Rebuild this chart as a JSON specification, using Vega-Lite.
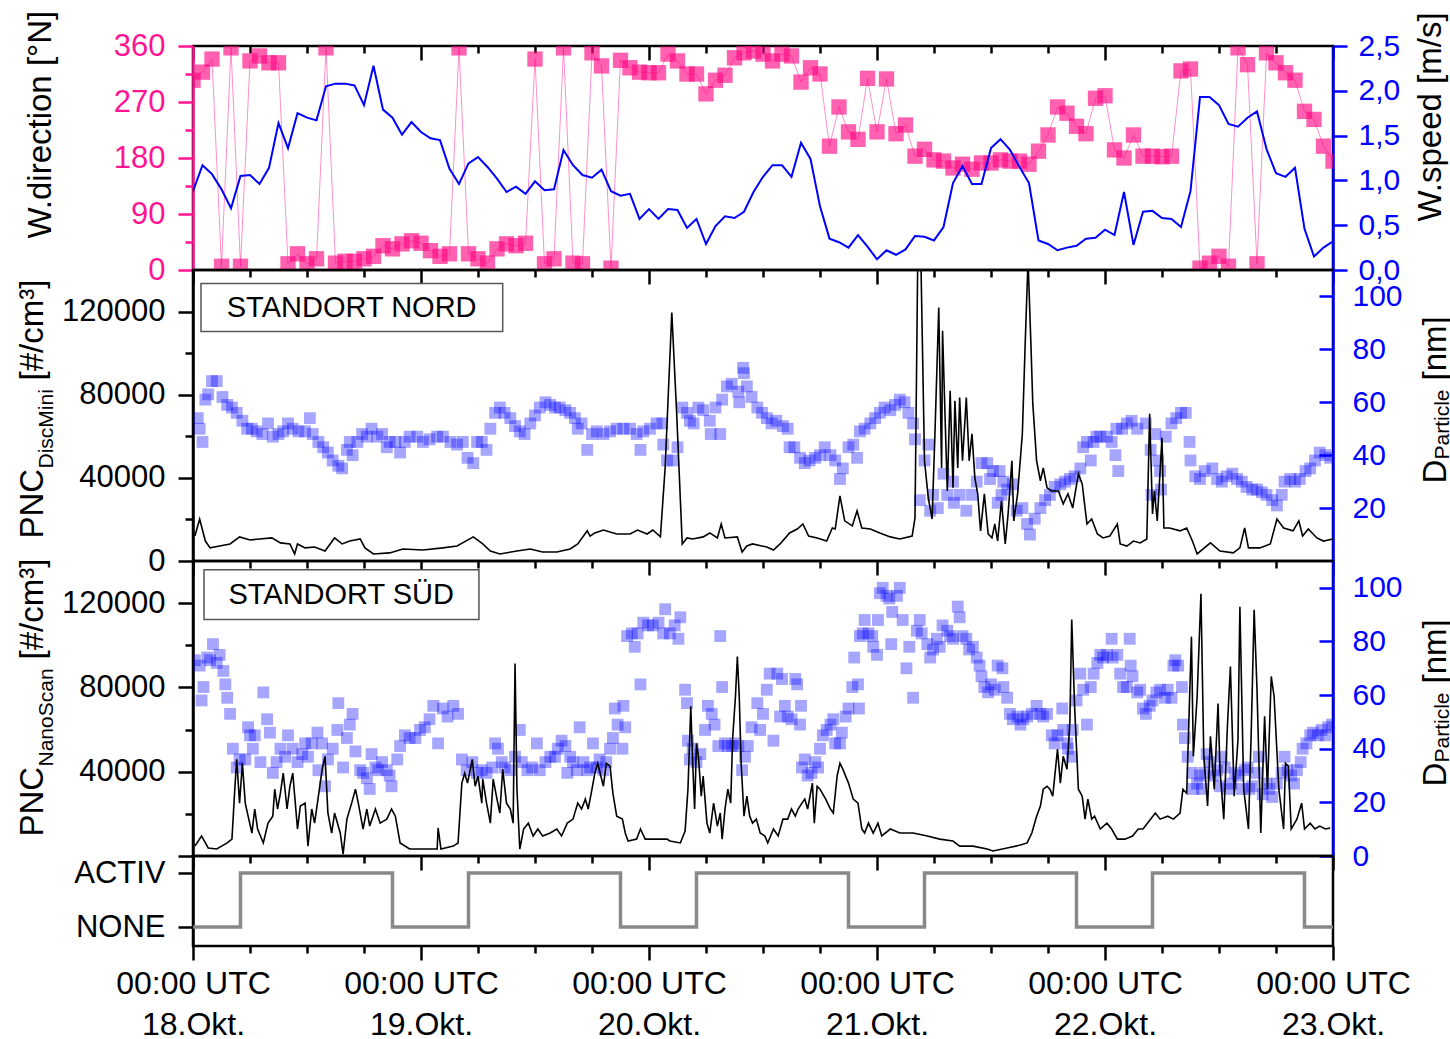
{
  "$schema": "https://vega.github.io/schema/vega-lite/v6.json",
  "background": "white",
  "padding": {"left": 14, "top": 8, "right": 0, "bottom": 0},
  "spacing": 0,
  "bounds": "flush",
  "config": {
    "view": {"stroke": "#000", "strokeWidth": 2.5},
    "axis": {"grid": false, "labelFont": "Liberation Sans", "titleFont": "Liberation Sans", "titleFontWeight": "normal", "titleColor": "#000", "labelColor": "#000"},
    "text": {"font": "Liberation Sans"}
  },
  "datasets": {
    "wdir": [{"h":0,"v":305},{"h":1,"v":318},{"h":2,"v":339},{"h":3,"v":6},{"h":4,"v":357},{"h":5,"v":6},{"h":6,"v":336},{"h":7,"v":344},{"h":8,"v":333},{"h":9,"v":333},{"h":10,"v":10},{"h":11,"v":26},{"h":12,"v":10},{"h":13,"v":18},{"h":14,"v":357},{"h":15,"v":11},{"h":16,"v":14},{"h":17,"v":14},{"h":18,"v":18},{"h":19,"v":22},{"h":20,"v":39},{"h":21,"v":34},{"h":22,"v":42},{"h":23,"v":47},{"h":24,"v":43},{"h":25,"v":31},{"h":26,"v":22},{"h":27,"v":26},{"h":28,"v":357},{"h":29,"v":26},{"h":30,"v":18},{"h":31,"v":11},{"h":32,"v":34},{"h":33,"v":42},{"h":34,"v":39},{"h":35,"v":43},{"h":36,"v":339},{"h":37,"v":10},{"h":38,"v":18},{"h":39,"v":357},{"h":40,"v":11},{"h":41,"v":10},{"h":42,"v":349},{"h":43,"v":328},{"h":44,"v":3},{"h":45,"v":337},{"h":46,"v":325},{"h":47,"v":318},{"h":48,"v":317},{"h":49,"v":317},{"h":50,"v":347},{"h":51,"v":336},{"h":52,"v":315},{"h":53,"v":315},{"h":54,"v":283},{"h":55,"v":305},{"h":56,"v":313},{"h":57,"v":341},{"h":58,"v":349},{"h":59,"v":352},{"h":60,"v":347},{"h":61,"v":336},{"h":62,"v":347},{"h":63,"v":344},{"h":64,"v":302},{"h":65,"v":325},{"h":66,"v":315},{"h":67,"v":199},{"h":68,"v":262},{"h":69,"v":222},{"h":70,"v":210},{"h":71,"v":308},{"h":72,"v":222},{"h":73,"v":307},{"h":74,"v":219},{"h":75,"v":233},{"h":76,"v":183},{"h":77,"v":194},{"h":78,"v":177},{"h":79,"v":175},{"h":80,"v":164},{"h":81,"v":170},{"h":82,"v":162},{"h":83,"v":172},{"h":84,"v":172},{"h":85,"v":177},{"h":86,"v":175},{"h":87,"v":175},{"h":88,"v":170},{"h":89,"v":191},{"h":90,"v":217},{"h":91,"v":262},{"h":92,"v":252},{"h":93,"v":231},{"h":94,"v":219},{"h":95,"v":276},{"h":96,"v":280},{"h":97,"v":193},{"h":98,"v":180},{"h":99,"v":217},{"h":100,"v":183},{"h":101,"v":183},{"h":102,"v":182},{"h":103,"v":183},{"h":104,"v":320},{"h":105,"v":323},{"h":106,"v":3},{"h":107,"v":11},{"h":108,"v":22},{"h":109,"v":6},{"h":110,"v":357},{"h":111,"v":330},{"h":112,"v":10},{"h":113,"v":349},{"h":114,"v":333},{"h":115,"v":317},{"h":116,"v":305},{"h":117,"v":255},{"h":118,"v":242},{"h":119,"v":199},{"h":120,"v":175}],
    "wspd": [{"h":0,"v":0.88},{"h":1,"v":1.17},{"h":2,"v":1.07},{"h":3,"v":0.9},{"h":4,"v":0.69},{"h":5,"v":1.05},{"h":6,"v":1.06},{"h":7,"v":0.96},{"h":8,"v":1.14},{"h":9,"v":1.64},{"h":10,"v":1.36},{"h":11,"v":1.75},{"h":12,"v":1.7},{"h":13,"v":1.67},{"h":14,"v":2.05},{"h":15,"v":2.08},{"h":16,"v":2.08},{"h":17,"v":2.06},{"h":18,"v":1.84},{"h":19,"v":2.28},{"h":20,"v":1.79},{"h":21,"v":1.7},{"h":22,"v":1.51},{"h":23,"v":1.65},{"h":24,"v":1.54},{"h":25,"v":1.47},{"h":26,"v":1.45},{"h":27,"v":1.13},{"h":28,"v":0.96},{"h":29,"v":1.19},{"h":30,"v":1.26},{"h":31,"v":1.15},{"h":32,"v":1.02},{"h":33,"v":0.87},{"h":34,"v":0.93},{"h":35,"v":0.85},{"h":36,"v":0.99},{"h":37,"v":0.89},{"h":38,"v":0.9},{"h":39,"v":1.34},{"h":40,"v":1.17},{"h":41,"v":1.06},{"h":42,"v":1.03},{"h":43,"v":1.12},{"h":44,"v":0.88},{"h":45,"v":0.83},{"h":46,"v":0.85},{"h":47,"v":0.57},{"h":48,"v":0.68},{"h":49,"v":0.57},{"h":50,"v":0.68},{"h":51,"v":0.67},{"h":52,"v":0.47},{"h":53,"v":0.57},{"h":54,"v":0.29},{"h":55,"v":0.49},{"h":56,"v":0.6},{"h":57,"v":0.58},{"h":58,"v":0.65},{"h":59,"v":0.87},{"h":60,"v":1.04},{"h":61,"v":1.17},{"h":62,"v":1.17},{"h":63,"v":1.04},{"h":64,"v":1.42},{"h":65,"v":1.24},{"h":66,"v":0.71},{"h":67,"v":0.35},{"h":68,"v":0.31},{"h":69,"v":0.25},{"h":70,"v":0.39},{"h":71,"v":0.26},{"h":72,"v":0.12},{"h":73,"v":0.22},{"h":74,"v":0.17},{"h":75,"v":0.23},{"h":76,"v":0.38},{"h":77,"v":0.37},{"h":78,"v":0.33},{"h":79,"v":0.48},{"h":80,"v":0.97},{"h":81,"v":1.16},{"h":82,"v":0.96},{"h":83,"v":0.96},{"h":84,"v":1.36},{"h":85,"v":1.46},{"h":86,"v":1.34},{"h":87,"v":1.15},{"h":88,"v":0.97},{"h":89,"v":0.33},{"h":90,"v":0.29},{"h":91,"v":0.22},{"h":92,"v":0.25},{"h":93,"v":0.27},{"h":94,"v":0.35},{"h":95,"v":0.36},{"h":96,"v":0.45},{"h":97,"v":0.39},{"h":98,"v":0.87},{"h":99,"v":0.28},{"h":100,"v":0.65},{"h":101,"v":0.66},{"h":102,"v":0.58},{"h":103,"v":0.57},{"h":104,"v":0.48},{"h":105,"v":0.88},{"h":106,"v":1.93},{"h":107,"v":1.93},{"h":108,"v":1.84},{"h":109,"v":1.63},{"h":110,"v":1.6},{"h":111,"v":1.7},{"h":112,"v":1.77},{"h":113,"v":1.35},{"h":114,"v":1.08},{"h":115,"v":1.04},{"h":116,"v":1.14},{"h":117,"v":0.46},{"h":118,"v":0.15},{"h":119,"v":0.25},{"h":120,"v":0.32}],
    "pncN": [{"h":0.2,"v":12000},{"h":0.7,"v":20200},{"h":1.3,"v":9600},{"h":1.8,"v":6300},{"h":2.8,"v":7200},{"h":3.9,"v":8200},{"h":4.9,"v":11600},{"h":6,"v":10100},{"h":7,"v":10600},{"h":8.3,"v":11100},{"h":9.2,"v":8700},{"h":10.2,"v":8200},{"h":10.7,"v":3400},{"h":11,"v":8200},{"h":11.8,"v":6300},{"h":12.8,"v":6700},{"h":13.9,"v":4800},{"h":14.9,"v":11100},{"h":15.7,"v":8200},{"h":16.5,"v":9600},{"h":17.6,"v":10600},{"h":18.1,"v":6300},{"h":19,"v":3400},{"h":20.7,"v":3900},{"h":22.1,"v":5800},{"h":24.2,"v":5300},{"h":26.3,"v":6300},{"h":27.8,"v":7200},{"h":29.5,"v":11600},{"h":30.5,"v":8200},{"h":31.3,"v":4800},{"h":32.3,"v":3400},{"h":34.1,"v":4800},{"h":35.5,"v":5800},{"h":36.8,"v":4300},{"h":38.3,"v":4300},{"h":39.7,"v":5800},{"h":40.5,"v":8200},{"h":41.5,"v":14500},{"h":41.8,"v":12000},{"h":42.3,"v":13500},{"h":43.2,"v":14900},{"h":44.6,"v":13000},{"h":46,"v":13000},{"h":46.8,"v":14900},{"h":47.8,"v":13000},{"h":48.4,"v":14900},{"h":49.2,"v":11600},{"h":49.7,"v":45000},{"h":50.4,"v":119500},{"h":50.9,"v":72300},{"h":51.5,"v":8200},{"h":52,"v":11100},{"h":52.6,"v":10600},{"h":53.7,"v":11600},{"h":54.4,"v":13500},{"h":55.2,"v":11100},{"h":55.6,"v":17800},{"h":56,"v":11100},{"h":57.3,"v":11600},{"h":57.8,"v":4300},{"h":58.3,"v":7200},{"h":58.9,"v":8200},{"h":60.4,"v":6700},{"h":61.1,"v":5300},{"h":61.8,"v":8200},{"h":62.8,"v":13500},{"h":63.6,"v":15400},{"h":64.2,"v":17800},{"h":64.8,"v":12000},{"h":65.7,"v":11100},{"h":66.7,"v":9600},{"h":67.3,"v":15900},{"h":67.6,"v":15400},{"h":68.1,"v":31300},{"h":68.6,"v":19300},{"h":69.4,"v":16900},{"h":69.9,"v":24100},{"h":70.4,"v":15900},{"h":71.3,"v":15400},{"h":72.3,"v":13500},{"h":73.4,"v":11600},{"h":74.4,"v":10600},{"h":75.7,"v":12000},{"h":76,"v":20700},{"h":76.3,"v":150000},{"h":76.6,"v":150000},{"h":77,"v":48200},{"h":77.4,"v":30400},{"h":77.8,"v":20200},{"h":78.1,"v":61200},{"h":78.5,"v":121900},{"h":78.8,"v":44800},{"h":78.9,"v":110800},{"h":79.2,"v":64100},{"h":79.4,"v":33700},{"h":79.7,"v":81900},{"h":80,"v":35200},{"h":80.2,"v":77100},{"h":80.5,"v":44800},{"h":80.7,"v":78600},{"h":81,"v":48200},{"h":81.4,"v":78600},{"h":81.7,"v":48200},{"h":82,"v":61200},{"h":82.3,"v":40000},{"h":82.6,"v":32300},{"h":82.9,"v":14500},{"h":83.3,"v":32300},{"h":83.6,"v":17800},{"h":83.7,"v":13000},{"h":84.1,"v":11100},{"h":84.4,"v":17800},{"h":84.7,"v":9600},{"h":85.1,"v":28900},{"h":85.5,"v":8200},{"h":85.8,"v":22600},{"h":86.2,"v":48200},{"h":86.4,"v":19300},{"h":86.8,"v":32300},{"h":87.3,"v":61200},{"h":87.6,"v":104600},{"h":87.9,"v":145000},{"h":88.2,"v":104600},{"h":88.4,"v":75700},{"h":88.8,"v":48200},{"h":89.2,"v":38600},{"h":89.5,"v":44800},{"h":89.9,"v":35200},{"h":90.4,"v":33700},{"h":91.1,"v":33700},{"h":91.6,"v":27500},{"h":92.1,"v":32300},{"h":92.6,"v":25500},{"h":93.2,"v":41900},{"h":93.6,"v":37100},{"h":94.1,"v":17800},{"h":94.6,"v":20200},{"h":95.2,"v":13000},{"h":95.8,"v":11100},{"h":96.5,"v":12000},{"h":97.3,"v":17800},{"h":97.6,"v":8200},{"h":98.3,"v":7200},{"h":99,"v":9600},{"h":99.7,"v":8700},{"h":100.4,"v":10600},{"h":100.7,"v":70800},{"h":101,"v":22600},{"h":101.2,"v":33700},{"h":101.5,"v":19300},{"h":102,"v":59300},{"h":102.2,"v":15900},{"h":102.8,"v":15900},{"h":103.9,"v":14500},{"h":104.6,"v":15900},{"h":105.2,"v":9600},{"h":105.7,"v":3400},{"h":107.1,"v":8700},{"h":108.1,"v":4800},{"h":109.5,"v":3900},{"h":110.2,"v":6300},{"h":110.7,"v":15900},{"h":111.1,"v":6300},{"h":112.3,"v":6300},{"h":113.4,"v":8200},{"h":114.1,"v":20200},{"h":114.8,"v":15900},{"h":115.8,"v":14500},{"h":116.4,"v":19300},{"h":116.8,"v":12000},{"h":117.4,"v":15400},{"h":118.3,"v":11100},{"h":119,"v":9600},{"h":120,"v":10600}],
    "dN": [{"h":0.5,"v":54},{"h":0.7,"v":50},{"h":1,"v":45},{"h":1.3,"v":61},{"h":1.6,"v":63},{"h":2,"v":68},{"h":2.5,"v":68},{"h":3.1,"v":62},{"h":3.6,"v":59},{"h":4.1,"v":58},{"h":4.6,"v":56},{"h":5.2,"v":53},{"h":5.7,"v":50},{"h":6.2,"v":50},{"h":6.7,"v":49},{"h":7.3,"v":48},{"h":7.9,"v":52},{"h":8.4,"v":47},{"h":9,"v":48},{"h":9.5,"v":49},{"h":10,"v":52},{"h":10.5,"v":50},{"h":11.1,"v":49},{"h":11.8,"v":49},{"h":12.3,"v":54},{"h":12.6,"v":48},{"h":13.2,"v":45},{"h":13.7,"v":43},{"h":14.2,"v":41},{"h":14.7,"v":38},{"h":15.3,"v":36},{"h":15.7,"v":35},{"h":16.2,"v":42},{"h":16.5,"v":45},{"h":16.8,"v":40},{"h":17.3,"v":45},{"h":17.8,"v":48},{"h":18.3,"v":47},{"h":18.8,"v":50},{"h":19.4,"v":47},{"h":19.9,"v":48},{"h":20.4,"v":43},{"h":20.7,"v":45},{"h":21.3,"v":45},{"h":21.8,"v":41},{"h":22.3,"v":45},{"h":22.8,"v":47},{"h":23.6,"v":47},{"h":24.2,"v":45},{"h":24.9,"v":46},{"h":25.7,"v":47},{"h":26.3,"v":47},{"h":27.1,"v":45},{"h":27.8,"v":44},{"h":28.4,"v":45},{"h":28.9,"v":39},{"h":29.5,"v":37},{"h":29.9,"v":45},{"h":30.4,"v":45},{"h":30.9,"v":42},{"h":31.3,"v":50},{"h":31.8,"v":56},{"h":32.3,"v":58},{"h":32.8,"v":56},{"h":33.4,"v":54},{"h":33.9,"v":51},{"h":34.4,"v":49},{"h":34.9,"v":48},{"h":35.5,"v":52},{"h":36,"v":55},{"h":36.5,"v":58},{"h":37.1,"v":60},{"h":37.6,"v":59},{"h":38.1,"v":58},{"h":38.6,"v":58},{"h":39.2,"v":57},{"h":39.7,"v":56},{"h":40.2,"v":54},{"h":40.5,"v":50},{"h":40.9,"v":52},{"h":41.5,"v":42},{"h":42,"v":48},{"h":42.5,"v":49},{"h":43.2,"v":48},{"h":43.9,"v":49},{"h":44.6,"v":50},{"h":45.3,"v":50},{"h":46,"v":50},{"h":46.7,"v":48},{"h":47.1,"v":42},{"h":47.4,"v":49},{"h":48.1,"v":50},{"h":48.8,"v":52},{"h":49.4,"v":52},{"h":49.5,"v":44},{"h":49.9,"v":38},{"h":50.5,"v":38},{"h":51,"v":43},{"h":51.5,"v":58},{"h":52,"v":56},{"h":52.3,"v":53},{"h":52.7,"v":52},{"h":53.2,"v":58},{"h":53.7,"v":57},{"h":54.4,"v":53},{"h":54.5,"v":48},{"h":55,"v":58},{"h":55.5,"v":48},{"h":55.7,"v":61},{"h":56.2,"v":66},{"h":56.7,"v":67},{"h":57.4,"v":64},{"h":57.5,"v":60},{"h":57.9,"v":73},{"h":58,"v":71},{"h":58.3,"v":66},{"h":58.8,"v":62},{"h":59.4,"v":58},{"h":59.9,"v":56},{"h":60.4,"v":54},{"h":60.9,"v":52},{"h":61.4,"v":53},{"h":62.1,"v":51},{"h":62.6,"v":50},{"h":62.8,"v":43},{"h":63.3,"v":43},{"h":63.9,"v":39},{"h":64.4,"v":37},{"h":64.9,"v":38},{"h":65.5,"v":39},{"h":66,"v":40},{"h":66.5,"v":43},{"h":67.1,"v":40},{"h":67.6,"v":38},{"h":68.1,"v":31},{"h":68.4,"v":35},{"h":69,"v":43},{"h":69.5,"v":44},{"h":69.9,"v":39},{"h":70.2,"v":49},{"h":70.7,"v":50},{"h":71.3,"v":52},{"h":71.8,"v":54},{"h":72.3,"v":56},{"h":72.8,"v":58},{"h":73.4,"v":57},{"h":73.9,"v":59},{"h":74.4,"v":61},{"h":74.9,"v":60},{"h":75.3,"v":56},{"h":75.8,"v":52},{"h":76,"v":46},{"h":76.5,"v":23},{"h":77,"v":38},{"h":77.4,"v":44},{"h":77.6,"v":19},{"h":77.9,"v":25},{"h":78.4,"v":20},{"h":79,"v":33},{"h":79.4,"v":25},{"h":80,"v":30},{"h":80.1,"v":22},{"h":80.7,"v":25},{"h":81.4,"v":19},{"h":82,"v":25},{"h":82.5,"v":30},{"h":83,"v":37},{"h":83.6,"v":37},{"h":83.9,"v":31},{"h":84.2,"v":34},{"h":84.7,"v":22},{"h":84.9,"v":34},{"h":85.1,"v":25},{"h":85.3,"v":30},{"h":85.7,"v":27},{"h":86.3,"v":29},{"h":86.7,"v":19},{"h":87.3,"v":20},{"h":87.8,"v":14},{"h":88.1,"v":10},{"h":88.6,"v":16},{"h":89.2,"v":20},{"h":89.7,"v":23},{"h":90.2,"v":25},{"h":90.7,"v":28},{"h":91.3,"v":29},{"h":91.8,"v":30},{"h":92.3,"v":31},{"h":92.8,"v":32},{"h":93.4,"v":35},{"h":93.7,"v":43},{"h":94.1,"v":45},{"h":94.5,"v":38},{"h":94.8,"v":45},{"h":95.1,"v":47},{"h":95.5,"v":47},{"h":96.2,"v":47},{"h":96.7,"v":45},{"h":97.1,"v":40},{"h":97.2,"v":50},{"h":97.4,"v":34},{"h":97.8,"v":50},{"h":98.3,"v":52},{"h":98.8,"v":53},{"h":99.4,"v":50},{"h":100.3,"v":52},{"h":100.8,"v":42},{"h":100.9,"v":25},{"h":101.3,"v":48},{"h":101.6,"v":38},{"h":101.8,"v":34},{"h":101.9,"v":27},{"h":102.4,"v":47},{"h":103,"v":52},{"h":103.5,"v":54},{"h":104,"v":56},{"h":104.5,"v":56},{"h":104.9,"v":45},{"h":105,"v":38},{"h":105.5,"v":32},{"h":106,"v":31},{"h":106.5,"v":34},{"h":107.3,"v":35},{"h":107.8,"v":31},{"h":108.3,"v":30},{"h":108.8,"v":32},{"h":109.4,"v":33},{"h":109.9,"v":31},{"h":110.4,"v":30},{"h":110.9,"v":28},{"h":111.5,"v":27},{"h":112,"v":27},{"h":112.5,"v":26},{"h":113,"v":25},{"h":113.6,"v":23},{"h":114.1,"v":21},{"h":114.6,"v":25},{"h":114.9,"v":30},{"h":115.5,"v":31},{"h":116,"v":30},{"h":116.5,"v":31},{"h":117.1,"v":34},{"h":117.6,"v":35},{"h":118.1,"v":38},{"h":118.6,"v":41},{"h":119.2,"v":40},{"h":119.7,"v":39}],
    "pncS": [{"h":0.2,"v":4700},{"h":0.9,"v":9500},{"h":1.6,"v":3800},{"h":2.5,"v":3300},{"h":3.6,"v":6200},{"h":4.1,"v":8000},{"h":4.4,"v":31700},{"h":4.6,"v":45900},{"h":4.9,"v":25100},{"h":5.2,"v":44000},{"h":5.5,"v":25100},{"h":5.8,"v":18900},{"h":6.2,"v":10900},{"h":6.5,"v":22300},{"h":6.8,"v":12800},{"h":7.4,"v":6200},{"h":7.9,"v":15600},{"h":8.4,"v":18900},{"h":8.6,"v":31700},{"h":8.9,"v":22300},{"h":9.2,"v":29800},{"h":9.5,"v":39300},{"h":9.9,"v":22300},{"h":10.2,"v":33100},{"h":10.5,"v":39300},{"h":11,"v":12800},{"h":11.3,"v":23700},{"h":11.8,"v":25100},{"h":12.1,"v":4700},{"h":12.5,"v":22300},{"h":12.8,"v":15600},{"h":13.2,"v":28400},{"h":13.6,"v":41200},{"h":13.9,"v":47300},{"h":14.2,"v":20400},{"h":14.6,"v":10900},{"h":14.9,"v":20400},{"h":15.5,"v":10900},{"h":15.8,"v":900},{"h":16.2,"v":17500},{"h":16.7,"v":25100},{"h":17.1,"v":31700},{"h":17.4,"v":25100},{"h":17.9,"v":12800},{"h":18.3,"v":22300},{"h":18.6,"v":14200},{"h":19.2,"v":22300},{"h":19.7,"v":15600},{"h":20.4,"v":17500},{"h":20.9,"v":22300},{"h":21.3,"v":18900},{"h":21.8,"v":6200},{"h":22.8,"v":3300},{"h":24.2,"v":3300},{"h":25.7,"v":3300},{"h":25.8,"v":13300},{"h":26.1,"v":3300},{"h":27.4,"v":4700},{"h":27.9,"v":6200},{"h":28.3,"v":34600},{"h":28.6,"v":39300},{"h":28.9,"v":34600},{"h":29.4,"v":45900},{"h":29.7,"v":33100},{"h":30,"v":37900},{"h":30.4,"v":25100},{"h":30.5,"v":36500},{"h":30.9,"v":25100},{"h":31.3,"v":15600},{"h":31.6,"v":36500},{"h":32,"v":27000},{"h":32.3,"v":20400},{"h":32.6,"v":41200},{"h":33,"v":25100},{"h":33.4,"v":22300},{"h":33.7,"v":15600},{"h":33.9,"v":91400},{"h":34.1,"v":31700},{"h":34.4,"v":3300},{"h":34.8,"v":12800},{"h":35.3,"v":15600},{"h":35.8,"v":9500},{"h":36.3,"v":12800},{"h":36.8,"v":9500},{"h":37.6,"v":10900},{"h":38.3,"v":12800},{"h":38.8,"v":9500},{"h":39.4,"v":15600},{"h":40,"v":17500},{"h":40.5,"v":25100},{"h":40.9,"v":22300},{"h":41.3,"v":27000},{"h":41.6,"v":22300},{"h":42,"v":31700},{"h":42.3,"v":39300},{"h":42.6,"v":44000},{"h":43.2,"v":33100},{"h":43.5,"v":44000},{"h":43.9,"v":42600},{"h":44.2,"v":29800},{"h":44.6,"v":18900},{"h":45.2,"v":17500},{"h":45.5,"v":10900},{"h":45.8,"v":7100},{"h":46.7,"v":8000},{"h":47.1,"v":12800},{"h":47.6,"v":8000},{"h":48.8,"v":8000},{"h":49.9,"v":8000},{"h":50.2,"v":7100},{"h":51.3,"v":6200},{"h":51.8,"v":11800},{"h":52.1,"v":31700},{"h":52.4,"v":71000},{"h":52.6,"v":44000},{"h":52.8,"v":22300},{"h":53,"v":53500},{"h":53.2,"v":47300},{"h":53.5,"v":28400},{"h":53.7,"v":37900},{"h":54.1,"v":15600},{"h":54.4,"v":10900},{"h":54.8,"v":25100},{"h":55.2,"v":14200},{"h":55.5,"v":20400},{"h":55.7,"v":8000},{"h":56,"v":22300},{"h":56.3,"v":31700},{"h":56.6,"v":25100},{"h":56.8,"v":55400},{"h":57.1,"v":75700},{"h":57.3,"v":94700},{"h":57.5,"v":75700},{"h":57.7,"v":44000},{"h":58,"v":18900},{"h":58.3,"v":28400},{"h":58.6,"v":18900},{"h":58.9,"v":15600},{"h":59.3,"v":17500},{"h":59.7,"v":10900},{"h":60.2,"v":9500},{"h":60.5,"v":6200},{"h":61.1,"v":12800},{"h":61.6,"v":9500},{"h":62.1,"v":17500},{"h":62.6,"v":17500},{"h":63,"v":22300},{"h":63.4,"v":18900},{"h":63.7,"v":22300},{"h":64.1,"v":25100},{"h":64.4,"v":27000},{"h":64.7,"v":22300},{"h":65.2,"v":34600},{"h":65.4,"v":15600},{"h":65.7,"v":33100},{"h":66,"v":31700},{"h":66.6,"v":27000},{"h":67.1,"v":22300},{"h":67.4,"v":20400},{"h":67.8,"v":37900},{"h":68.1,"v":44000},{"h":68.4,"v":41200},{"h":69,"v":34600},{"h":69.5,"v":27000},{"h":70,"v":25100},{"h":70.4,"v":12800},{"h":70.7,"v":10900},{"h":71.1,"v":15600},{"h":71.6,"v":10900},{"h":72.1,"v":15600},{"h":72.5,"v":9500},{"h":73.4,"v":12800},{"h":74.4,"v":10900},{"h":75.8,"v":10900},{"h":77.3,"v":9500},{"h":78.6,"v":8000},{"h":80,"v":7100},{"h":80.7,"v":4700},{"h":82.1,"v":4700},{"h":83.6,"v":3300},{"h":84.2,"v":2400},{"h":85.7,"v":3800},{"h":87.1,"v":5200},{"h":87.8,"v":6200},{"h":88.3,"v":10900},{"h":88.8,"v":18900},{"h":89.2,"v":23700},{"h":89.5,"v":31700},{"h":89.9,"v":33100},{"h":90.2,"v":31700},{"h":90.5,"v":28400},{"h":91,"v":50700},{"h":91.3,"v":34600},{"h":91.6,"v":47300},{"h":92,"v":41200},{"h":92.3,"v":63000},{"h":92.5,"v":112200},{"h":92.8,"v":71000},{"h":93.2,"v":31700},{"h":93.6,"v":28400},{"h":93.9,"v":17500},{"h":94.2,"v":27000},{"h":94.6,"v":17500},{"h":94.9,"v":18900},{"h":95.5,"v":12800},{"h":96.2,"v":15600},{"h":96.7,"v":12800},{"h":97.3,"v":8000},{"h":98.1,"v":8000},{"h":98.9,"v":9500},{"h":99.5,"v":12800},{"h":100,"v":12800},{"h":101.3,"v":20400},{"h":101.8,"v":17500},{"h":102.6,"v":18900},{"h":103.2,"v":17500},{"h":103.9,"v":20400},{"h":104.2,"v":31700},{"h":104.6,"v":29800},{"h":105.1,"v":104100},{"h":105.3,"v":47300},{"h":105.7,"v":75700},{"h":106.1,"v":124500},{"h":106.4,"v":47300},{"h":106.8,"v":23700},{"h":107.1,"v":56800},{"h":107.5,"v":31700},{"h":107.9,"v":72400},{"h":108.1,"v":41200},{"h":108.5,"v":17500},{"h":108.9,"v":63000},{"h":109.2,"v":89900},{"h":109.6,"v":28400},{"h":110,"v":55400},{"h":110.2,"v":118300},{"h":110.6,"v":31700},{"h":111.1,"v":12800},{"h":111.4,"v":60100},{"h":111.7,"v":116900},{"h":112,"v":79100},{"h":112.4,"v":10900},{"h":112.8,"v":66300},{"h":113.1,"v":31700},{"h":113.5,"v":85200},{"h":113.8,"v":75700},{"h":114.3,"v":31700},{"h":114.8,"v":12800},{"h":115,"v":44000},{"h":115.3,"v":42600},{"h":115.6,"v":12800},{"h":116.2,"v":17500},{"h":116.7,"v":25100},{"h":117,"v":12800},{"h":117.6,"v":15600},{"h":118.1,"v":12800},{"h":118.6,"v":14200},{"h":119.2,"v":12800},{"h":119.7,"v":13300}],
    "dS": [{"h":0.2,"v":73},{"h":0.7,"v":71},{"h":0.9,"v":58},{"h":1.1,"v":63},{"h":1.5,"v":74},{"h":1.8,"v":73},{"h":2.1,"v":79},{"h":2.5,"v":72},{"h":2.8,"v":75},{"h":3.2,"v":69},{"h":3.4,"v":64},{"h":3.6,"v":59},{"h":3.9,"v":53},{"h":4.2,"v":40},{"h":4.6,"v":33},{"h":4.9,"v":36},{"h":5.5,"v":36},{"h":5.8,"v":48},{"h":6,"v":45},{"h":6.3,"v":40},{"h":6.5,"v":45},{"h":7.1,"v":35},{"h":7.4,"v":61},{"h":7.8,"v":51},{"h":8.1,"v":46},{"h":8.4,"v":31},{"h":8.8,"v":35},{"h":9.2,"v":40},{"h":9.7,"v":37},{"h":10,"v":45},{"h":10.5,"v":40},{"h":11,"v":35},{"h":11.5,"v":38},{"h":11.8,"v":42},{"h":12.1,"v":37},{"h":12.5,"v":42},{"h":13.1,"v":46},{"h":13.2,"v":32},{"h":13.6,"v":42},{"h":13.9,"v":26},{"h":14.2,"v":36},{"h":14.7,"v":40},{"h":15.2,"v":47},{"h":15.3,"v":57},{"h":15.8,"v":33},{"h":16.2,"v":44},{"h":16.5,"v":49},{"h":16.8,"v":53},{"h":17.1,"v":39},{"h":17.6,"v":32},{"h":17.9,"v":31},{"h":18.3,"v":29},{"h":18.6,"v":25},{"h":18.8,"v":38},{"h":19.2,"v":33},{"h":19.5,"v":32},{"h":19.9,"v":35},{"h":20.4,"v":32},{"h":20.7,"v":30},{"h":20.9,"v":26},{"h":21.5,"v":36},{"h":21.8,"v":41},{"h":22.3,"v":45},{"h":22.8,"v":44},{"h":23.4,"v":44},{"h":23.9,"v":47},{"h":24.4,"v":48},{"h":24.9,"v":51},{"h":25.3,"v":56},{"h":25.8,"v":42},{"h":26.3,"v":55},{"h":26.8,"v":52},{"h":27.4,"v":56},{"h":27.9,"v":53},{"h":28.3,"v":36},{"h":28.8,"v":32},{"h":29.4,"v":35},{"h":29.9,"v":31},{"h":30.4,"v":32},{"h":30.9,"v":31},{"h":31.5,"v":33},{"h":31.8,"v":42},{"h":32.1,"v":40},{"h":32.5,"v":35},{"h":32.8,"v":33},{"h":33.4,"v":32},{"h":33.9,"v":37},{"h":34.4,"v":47},{"h":34.6,"v":35},{"h":35.2,"v":32},{"h":35.7,"v":33},{"h":36.2,"v":42},{"h":36.5,"v":32},{"h":37.1,"v":35},{"h":37.6,"v":37},{"h":38.1,"v":37},{"h":38.4,"v":40},{"h":38.8,"v":43},{"h":39.2,"v":41},{"h":39.4,"v":31},{"h":39.7,"v":37},{"h":40,"v":35},{"h":40.4,"v":32},{"h":40.7,"v":48},{"h":41.1,"v":35},{"h":41.5,"v":32},{"h":41.8,"v":33},{"h":42.1,"v":42},{"h":42.5,"v":33},{"h":42.8,"v":36},{"h":43.2,"v":32},{"h":43.5,"v":35},{"h":43.9,"v":40},{"h":44.2,"v":44},{"h":44.4,"v":55},{"h":44.7,"v":49},{"h":45.2,"v":40},{"h":45.3,"v":56},{"h":45.5,"v":48},{"h":45.7,"v":82},{"h":46.2,"v":83},{"h":46.5,"v":78},{"h":46.8,"v":83},{"h":47.1,"v":64},{"h":47.4,"v":87},{"h":47.9,"v":86},{"h":48.4,"v":86},{"h":49,"v":87},{"h":49.5,"v":83},{"h":49.7,"v":92},{"h":50.2,"v":83},{"h":50.7,"v":86},{"h":51.1,"v":81},{"h":51.3,"v":89},{"h":51.8,"v":62},{"h":52,"v":57},{"h":52.1,"v":43},{"h":52.3,"v":36},{"h":52.6,"v":40},{"h":53,"v":35},{"h":53.4,"v":38},{"h":53.9,"v":47},{"h":54.2,"v":56},{"h":54.6,"v":53},{"h":54.9,"v":49},{"h":55.3,"v":41},{"h":55.5,"v":82},{"h":55.7,"v":63},{"h":56,"v":42},{"h":56.3,"v":41},{"h":56.7,"v":41},{"h":57.1,"v":42},{"h":57.4,"v":41},{"h":57.8,"v":32},{"h":58.1,"v":37},{"h":58.4,"v":41},{"h":58.8,"v":48},{"h":59.4,"v":57},{"h":59.7,"v":47},{"h":60,"v":53},{"h":60.4,"v":62},{"h":60.7,"v":68},{"h":61.1,"v":43},{"h":61.5,"v":68},{"h":61.8,"v":52},{"h":62,"v":66},{"h":62.3,"v":56},{"h":62.6,"v":52},{"h":63,"v":51},{"h":63.4,"v":66},{"h":63.6,"v":64},{"h":63.9,"v":49},{"h":64,"v":56},{"h":64.1,"v":33},{"h":64.4,"v":36},{"h":64.7,"v":30},{"h":65.1,"v":31},{"h":65.5,"v":35},{"h":65.8,"v":33},{"h":66,"v":40},{"h":66.3,"v":45},{"h":66.7,"v":47},{"h":67.1,"v":49},{"h":67.4,"v":51},{"h":67.6,"v":42},{"h":68.1,"v":42},{"h":68.3,"v":46},{"h":68.7,"v":52},{"h":69,"v":55},{"h":69.4,"v":63},{"h":69.6,"v":74},{"h":70,"v":64},{"h":70.1,"v":55},{"h":70.2,"v":82},{"h":70.5,"v":83},{"h":70.7,"v":88},{"h":71.1,"v":83},{"h":71.5,"v":82},{"h":71.6,"v":78},{"h":72,"v":75},{"h":72.1,"v":88},{"h":72.3,"v":98},{"h":72.6,"v":100},{"h":73,"v":97},{"h":73.3,"v":96},{"h":73.5,"v":79},{"h":73.6,"v":91},{"h":74.1,"v":97},{"h":74.4,"v":100},{"h":74.7,"v":88},{"h":75.1,"v":70},{"h":75.4,"v":78},{"h":75.8,"v":59},{"h":76.2,"v":84},{"h":76.5,"v":88},{"h":76.7,"v":83},{"h":77.3,"v":79},{"h":77.6,"v":74},{"h":77.9,"v":77},{"h":78.3,"v":81},{"h":78.6,"v":78},{"h":78.9,"v":86},{"h":79.4,"v":84},{"h":79.7,"v":82},{"h":80,"v":81},{"h":80.5,"v":93},{"h":80.7,"v":89},{"h":81,"v":82},{"h":81.4,"v":81},{"h":81.7,"v":77},{"h":82.1,"v":78},{"h":82.5,"v":74},{"h":82.8,"v":71},{"h":83,"v":67},{"h":83.3,"v":63},{"h":83.7,"v":61},{"h":84,"v":64},{"h":84.4,"v":62},{"h":84.7,"v":71},{"h":85.2,"v":70},{"h":85.3,"v":63},{"h":85.7,"v":59},{"h":86,"v":53},{"h":86.3,"v":51},{"h":86.8,"v":52},{"h":87.1,"v":49},{"h":87.4,"v":51},{"h":87.8,"v":52},{"h":88.3,"v":53},{"h":88.8,"v":56},{"h":89.2,"v":53},{"h":89.5,"v":52},{"h":89.9,"v":53},{"h":90.4,"v":45},{"h":90.7,"v":42},{"h":91,"v":45},{"h":91.5,"v":55},{"h":91.6,"v":47},{"h":92,"v":42},{"h":92.1,"v":40},{"h":92.5,"v":37},{"h":92.6,"v":47},{"h":93,"v":58},{"h":93.4,"v":68},{"h":93.7,"v":62},{"h":94.1,"v":49},{"h":94.5,"v":63},{"h":94.8,"v":68},{"h":95.2,"v":72},{"h":95.5,"v":75},{"h":95.8,"v":74},{"h":96.2,"v":75},{"h":96.7,"v":81},{"h":96.8,"v":74},{"h":97.3,"v":75},{"h":97.6,"v":68},{"h":97.9,"v":63},{"h":98.3,"v":63},{"h":98.6,"v":81},{"h":98.7,"v":71},{"h":98.9,"v":67},{"h":99.4,"v":61},{"h":99.7,"v":62},{"h":100,"v":55},{"h":100.3,"v":53},{"h":100.7,"v":56},{"h":101,"v":58},{"h":101.4,"v":61},{"h":101.8,"v":62},{"h":102.3,"v":59},{"h":102.6,"v":62},{"h":103,"v":59},{"h":103.2,"v":71},{"h":103.4,"v":73},{"h":103.7,"v":71},{"h":104.1,"v":63},{"h":104.2,"v":49},{"h":104.4,"v":44},{"h":104.7,"v":37},{"h":105.2,"v":31},{"h":105.3,"v":25},{"h":105.7,"v":27},{"h":106,"v":30},{"h":106.2,"v":25},{"h":106.5,"v":31},{"h":106.7,"v":38},{"h":107,"v":35},{"h":107.4,"v":30},{"h":107.8,"v":32},{"h":108.1,"v":26},{"h":108.3,"v":37},{"h":108.6,"v":33},{"h":108.9,"v":25},{"h":109.3,"v":27},{"h":109.7,"v":31},{"h":110,"v":30},{"h":110.4,"v":25},{"h":110.7,"v":32},{"h":111,"v":33},{"h":111.2,"v":25},{"h":111.5,"v":26},{"h":111.9,"v":31},{"h":112.2,"v":37},{"h":112.6,"v":23},{"h":113,"v":27},{"h":113.3,"v":25},{"h":113.6,"v":22},{"h":114.1,"v":27},{"h":114.6,"v":31},{"h":114.9,"v":37},{"h":115.2,"v":32},{"h":115.6,"v":30},{"h":115.9,"v":27},{"h":116.2,"v":32},{"h":116.6,"v":35},{"h":116.8,"v":40},{"h":117.2,"v":42},{"h":117.6,"v":45},{"h":117.9,"v":46},{"h":118.4,"v":45},{"h":118.8,"v":47},{"h":119.2,"v":45},{"h":119.5,"v":48},{"h":119.9,"v":49}],
    "act": [{"h":0,"v":0},{"h":5,"v":1},{"h":21,"v":0},{"h":29,"v":1},{"h":45,"v":0},{"h":53,"v":1},{"h":69,"v":0},{"h":77,"v":1},{"h":93,"v":0},{"h":101,"v":1},{"h":117,"v":0},{"h":120,"v":0}]
  },
  "vconcat": [
    {
      "width": 1140, "height": 224,
      "layer": [
        {
          "data": {"name": "wdir"},
          "mark": {"type": "line", "color": "#ff1493", "strokeWidth": 0.8, "opacity": 0.6, "clip": true},
          "encoding": {
            "x": {"field": "h", "type": "quantitative", "scale": {"domain": [0, 120], "nice": false, "zero": false},
                  "axis": {"orient": "top", "values": [0,6,12,18,24,30,36,42,48,54,60,66,72,78,84,90,96,102,108,114,120], "labels": false, "domain": false, "title": null, "tickColor": "#000", "tickWidth": 2.5, "tickSize": {"condition": {"test": "datum.value % 24 === 0", "value": -14}, "value": -7}}},
            "y": {"field": "v", "type": "quantitative", "scale": {"domain": [0, 360], "nice": false, "zero": false},
                  "axis": {"orient": "left", "values": [0,45,90,135,180,225,270,315,360], "labelExpr": "datum.value % 90 === 0 ? datum.label : ''",
                           "title": "W.direction [°N]", "titleFontSize": 33, "titleAngle": 270, "titleAlign": "left", "titleBaseline": "alphabetic", "titleX": -143, "titleY": 192,
                           "domainColor": "#ff1493", "domainWidth": 2.5, "tickColor": "#ff1493", "tickWidth": 2.5,
                           "tickSize": {"condition": {"test": "datum.value % 90 === 0", "value": 15}, "value": 8},
                           "labelColor": "#ff1493", "labelFontSize": 31, "labelPadding": 13}}
          }
        },
        {
          "data": {"name": "wdir"},
          "mark": {"type": "point", "shape": "square", "filled": true, "color": "#ff0a84", "opacity": 0.65, "size": 235, "clip": true},
          "encoding": {
            "x": {"field": "h", "type": "quantitative", "scale": {"domain": [0, 120], "nice": false, "zero": false}, "axis": null},
            "y": {"field": "v", "type": "quantitative", "scale": {"domain": [0, 360], "nice": false, "zero": false}, "axis": null}
          }
        },
        {
          "data": {"name": "wspd"},
          "mark": {"type": "line", "color": "#0000ff", "strokeWidth": 2, "clip": true},
          "encoding": {
            "x": {"field": "h", "type": "quantitative", "scale": {"domain": [0, 120], "nice": false, "zero": false},
                  "axis": {"orient": "bottom", "values": [0,6,12,18,24,30,36,42,48,54,60,66,72,78,84,90,96,102,108,114,120], "labels": false, "domain": false, "title": null, "tickColor": "#000", "tickWidth": 2.5, "tickSize": {"condition": {"test": "datum.value % 24 === 0", "value": 14}, "value": 7}}},
            "y": {"field": "v", "type": "quantitative", "scale": {"domain": [0, 2.5], "nice": false, "zero": false},
                  "axis": {"orient": "right", "values": [0,0.5,1,1.5,2,2.5], "labelExpr": "replace(format(datum.value, '.1f'), '.', ',')",
                           "title": "W.speed [m/s]", "titleFontSize": 33, "titleAngle": 270, "titleAlign": "left", "titleBaseline": "alphabetic", "titleX": 107, "titleY": 175,
                           "domainColor": "#0000ff", "domainWidth": 2.5, "tickColor": "#0000ff", "tickWidth": 2.5, "tickSize": 14,
                           "labelColor": "#0000ff", "labelFontSize": 30, "labelPadding": 11}}
          }
        }
      ],
      "resolve": {"scale": {"y": "independent"}, "axis": {"x": "independent", "y": "independent"}}
    },
    {
      "width": 1140, "height": 291,
      "layer": [
        {
          "data": {"name": "dN"},
          "mark": {"type": "point", "shape": "square", "filled": true, "color": "#0000ff", "opacity": 0.35, "size": 140, "clip": true},
          "encoding": {
            "x": {"field": "h", "type": "quantitative", "scale": {"domain": [0, 120], "nice": false, "zero": false},
                  "axis": {"orient": "bottom", "values": [0,6,12,18,24,30,36,42,48,54,60,66,72,78,84,90,96,102,108,114,120], "labels": false, "domain": false, "title": null, "tickColor": "#000", "tickWidth": 2.5, "tickSize": {"condition": {"test": "datum.value % 24 === 0", "value": 14}, "value": 7}}},
            "y": {"field": "v", "type": "quantitative", "scale": {"domain": [0, 110], "nice": false, "zero": false},
                  "axis": {"orient": "right", "values": [20,40,60,80,100],
                           "title": "D", "titleFontSize": 33, "titleAngle": 270, "titleAlign": "left", "titleBaseline": "alphabetic", "titleX": 112, "titleY": 213,
                           "domainColor": "#0000ff", "domainWidth": 2.5, "tickColor": "#0000ff", "tickWidth": 2.5, "tickSize": -14,
                           "labelColor": "#0000ff", "labelFontSize": 30, "labelPadding": 33}}
          }
        },
        {
          "data": {"name": "pncN"},
          "mark": {"type": "line", "color": "#000", "strokeWidth": 1.6, "clip": true},
          "encoding": {
            "x": {"field": "h", "type": "quantitative", "scale": {"domain": [0, 120], "nice": false, "zero": false}, "axis": null},
            "y": {"field": "v", "type": "quantitative", "scale": {"domain": [0, 140000], "nice": false, "zero": false},
                  "axis": {"orient": "left", "values": [0,20000,40000,60000,80000,100000,120000], "labelExpr": "datum.value % 40000 === 0 ? format(datum.value, 'd') : ''",
                           "title": "PNC", "titleFontSize": 33, "titleAngle": 270, "titleAlign": "left", "titleBaseline": "alphabetic", "titleX": -151, "titleY": 268,
                           "domainColor": "#000", "domainWidth": 2.5, "tickColor": "#000", "tickWidth": 2.5,
                           "tickSize": {"condition": {"test": "datum.value % 40000 === 0", "value": 15}, "value": 8},
                           "labelFontSize": 31, "labelPadding": 13}}
          }
        },
        {
          "data": {"values": [{}]},
          "mark": {"type": "rect", "fill": "#fff", "stroke": "#555", "strokeWidth": 1.5},
          "encoding": {
            "x": {"datum": 0.84, "type": "quantitative", "scale": {"domain": [0, 120], "nice": false, "zero": false}, "axis": null},
            "x2": {"datum": 32.6},
            "y": {"datum": 133500, "type": "quantitative", "scale": {"domain": [0, 140000], "nice": false, "zero": false}, "axis": null},
            "y2": {"datum": 110400}
          }
        },
        {
          "data": {"values": [{}]},
          "mark": {"type": "text", "text": "STANDORT NORD", "fontSize": 29, "color": "#000", "align": "center", "baseline": "middle"},
          "encoding": {
            "x": {"datum": 16.7, "type": "quantitative", "scale": {"domain": [0, 120], "nice": false, "zero": false}, "axis": null},
            "y": {"datum": 121900, "type": "quantitative", "scale": {"domain": [0, 140000], "nice": false, "zero": false}, "axis": null}
          }
        },
        {
          "data": {"values": [{}]},
          "mark": {"type": "rule", "opacity": 0},
          "encoding": {"y": {"datum": 0, "type": "quantitative", "scale": {"domain": [0, 1]},
            "axis": {"orient": "left", "domain": false, "ticks": false, "labels": false, "title": "DiscMini", "titleFontSize": 21, "titleAngle": 270, "titleAlign": "left", "titleBaseline": "alphabetic", "titleX": -141, "titleY": 198}}}
        },
        {
          "data": {"values": [{}]},
          "mark": {"type": "rule", "opacity": 0},
          "encoding": {"y": {"datum": 0, "type": "quantitative", "scale": {"domain": [0, 1]},
            "axis": {"orient": "left", "domain": false, "ticks": false, "labels": false, "title": "[#/cm³]", "titleFontSize": 33, "titleAngle": 270, "titleAlign": "left", "titleBaseline": "alphabetic", "titleX": -151, "titleY": 110}}}
        },
        {
          "data": {"values": [{}]},
          "mark": {"type": "rule", "opacity": 0},
          "encoding": {"y": {"datum": 0, "type": "quantitative", "scale": {"domain": [0, 1]},
            "axis": {"orient": "right", "domain": false, "ticks": false, "labels": false, "title": "Particle", "titleFontSize": 21, "titleAngle": 270, "titleAlign": "left", "titleBaseline": "alphabetic", "titleX": 115, "titleY": 189}}}
        },
        {
          "data": {"values": [{}]},
          "mark": {"type": "rule", "opacity": 0},
          "encoding": {"y": {"datum": 0, "type": "quantitative", "scale": {"domain": [0, 1]},
            "axis": {"orient": "right", "domain": false, "ticks": false, "labels": false, "title": "[nm]", "titleFontSize": 33, "titleAngle": 270, "titleAlign": "left", "titleBaseline": "alphabetic", "titleX": 112, "titleY": 110}}}
        }
      ],
      "resolve": {"scale": {"y": "independent"}, "axis": {"x": "independent", "y": "independent"}}
    },
    {
      "width": 1140, "height": 295,
      "layer": [
        {
          "data": {"name": "dS"},
          "mark": {"type": "point", "shape": "square", "filled": true, "color": "#0000ff", "opacity": 0.35, "size": 140, "clip": true},
          "encoding": {
            "x": {"field": "h", "type": "quantitative", "scale": {"domain": [0, 120], "nice": false, "zero": false},
                  "axis": {"orient": "bottom", "values": [0,6,12,18,24,30,36,42,48,54,60,66,72,78,84,90,96,102,108,114,120], "labels": false, "domain": false, "title": null, "tickColor": "#000", "tickWidth": 2.5, "tickSize": {"condition": {"test": "datum.value % 24 === 0", "value": 14}, "value": 7}}},
            "y": {"field": "v", "type": "quantitative", "scale": {"domain": [0, 110], "nice": false, "zero": false},
                  "axis": {"orient": "right", "values": [0,20,40,60,80,100],
                           "title": "D", "titleFontSize": 33, "titleAngle": 270, "titleAlign": "left", "titleBaseline": "alphabetic", "titleX": 112, "titleY": 225,
                           "domainColor": "#0000ff", "domainWidth": 2.5, "tickColor": "#0000ff", "tickWidth": 2.5, "tickSize": -14,
                           "labelColor": "#0000ff", "labelFontSize": 30, "labelPadding": 33}}
          }
        },
        {
          "data": {"name": "pncS"},
          "mark": {"type": "line", "color": "#000", "strokeWidth": 1.6, "clip": true},
          "encoding": {
            "x": {"field": "h", "type": "quantitative", "scale": {"domain": [0, 120], "nice": false, "zero": false}, "axis": null},
            "y": {"field": "v", "type": "quantitative", "scale": {"domain": [0, 140000], "nice": false, "zero": false},
                  "axis": {"orient": "left", "values": [0,20000,40000,60000,80000,100000,120000], "labelExpr": "datum.value % 40000 === 0 && datum.value > 0 ? format(datum.value, 'd') : ''",
                           "title": "PNC", "titleFontSize": 33, "titleAngle": 270, "titleAlign": "left", "titleBaseline": "alphabetic", "titleX": -151, "titleY": 275,
                           "domainColor": "#000", "domainWidth": 2.5, "tickColor": "#000", "tickWidth": 2.5,
                           "tickSize": {"condition": {"test": "datum.value % 40000 === 0", "value": 15}, "value": 8},
                           "labelFontSize": 31, "labelPadding": 13}}
          }
        },
        {
          "data": {"values": [{}]},
          "mark": {"type": "rect", "fill": "#fff", "stroke": "#555", "strokeWidth": 1.5},
          "encoding": {
            "x": {"datum": 1.16, "type": "quantitative", "scale": {"domain": [0, 120], "nice": false, "zero": false}, "axis": null},
            "x2": {"datum": 30.1},
            "y": {"datum": 135900, "type": "quantitative", "scale": {"domain": [0, 140000], "nice": false, "zero": false}, "axis": null},
            "y2": {"datum": 112200}
          }
        },
        {
          "data": {"values": [{}]},
          "mark": {"type": "text", "text": "STANDORT SÜD", "fontSize": 29, "color": "#000", "align": "center", "baseline": "middle"},
          "encoding": {
            "x": {"datum": 15.6, "type": "quantitative", "scale": {"domain": [0, 120], "nice": false, "zero": false}, "axis": null},
            "y": {"datum": 124000, "type": "quantitative", "scale": {"domain": [0, 140000], "nice": false, "zero": false}, "axis": null}
          }
        },
        {
          "data": {"values": [{}]},
          "mark": {"type": "rule", "opacity": 0},
          "encoding": {"y": {"datum": 0, "type": "quantitative", "scale": {"domain": [0, 1]},
            "axis": {"orient": "left", "domain": false, "ticks": false, "labels": false, "title": "NanoScan", "titleFontSize": 21, "titleAngle": 270, "titleAlign": "left", "titleBaseline": "alphabetic", "titleX": -141, "titleY": 205}}}
        },
        {
          "data": {"values": [{}]},
          "mark": {"type": "rule", "opacity": 0},
          "encoding": {"y": {"datum": 0, "type": "quantitative", "scale": {"domain": [0, 1]},
            "axis": {"orient": "left", "domain": false, "ticks": false, "labels": false, "title": "[#/cm³]", "titleFontSize": 33, "titleAngle": 270, "titleAlign": "left", "titleBaseline": "alphabetic", "titleX": -151, "titleY": 98}}}
        },
        {
          "data": {"values": [{}]},
          "mark": {"type": "rule", "opacity": 0},
          "encoding": {"y": {"datum": 0, "type": "quantitative", "scale": {"domain": [0, 1]},
            "axis": {"orient": "right", "domain": false, "ticks": false, "labels": false, "title": "Particle", "titleFontSize": 21, "titleAngle": 270, "titleAlign": "left", "titleBaseline": "alphabetic", "titleX": 115, "titleY": 201}}}
        },
        {
          "data": {"values": [{}]},
          "mark": {"type": "rule", "opacity": 0},
          "encoding": {"y": {"datum": 0, "type": "quantitative", "scale": {"domain": [0, 1]},
            "axis": {"orient": "right", "domain": false, "ticks": false, "labels": false, "title": "[nm]", "titleFontSize": 33, "titleAngle": 270, "titleAlign": "left", "titleBaseline": "alphabetic", "titleX": 112, "titleY": 122}}}
        }
      ],
      "resolve": {"scale": {"y": "independent"}, "axis": {"x": "independent", "y": "independent"}}
    },
    {
      "width": 1140, "height": 90,
      "data": {"name": "act"},
      "mark": {"type": "line", "interpolate": "step-after", "color": "#888888", "strokeWidth": 3.5},
      "encoding": {
        "x": {"field": "h", "type": "quantitative", "scale": {"domain": [0, 120], "nice": false, "zero": false},
              "axis": {"orient": "bottom", "values": [0,6,12,18,24,30,36,42,48,54,60,66,72,78,84,90,96,102,108,114,120], "domain": false, "title": null, "tickColor": "#000", "tickWidth": 2.5,
                       "tickSize": {"condition": {"test": "datum.value % 24 === 0", "value": 14}, "value": 7},
                       "labelExpr": "datum.value % 24 === 0 ? ['00:00 UTC', (18 + datum.value / 24) + '.Okt.'] : ''",
                       "labelFontSize": 32, "labelLineHeight": 41, "labelPadding": 8, "labelFlush": false, "labelOverlap": false, "labelBound": false}},
        "y": {"field": "v", "type": "quantitative", "scale": {"domain": [-0.35, 1.315], "nice": false, "zero": false},
              "axis": {"orient": "left", "values": [0, 1], "labelExpr": "datum.value === 1 ? 'ACTIV' : 'NONE'", "title": null,
                       "domainColor": "#000", "domainWidth": 2.5, "tickColor": "#000", "tickWidth": 2.5, "tickSize": 15, "labelFontSize": 31, "labelPadding": 13}}
      }
    }
  ]
}
